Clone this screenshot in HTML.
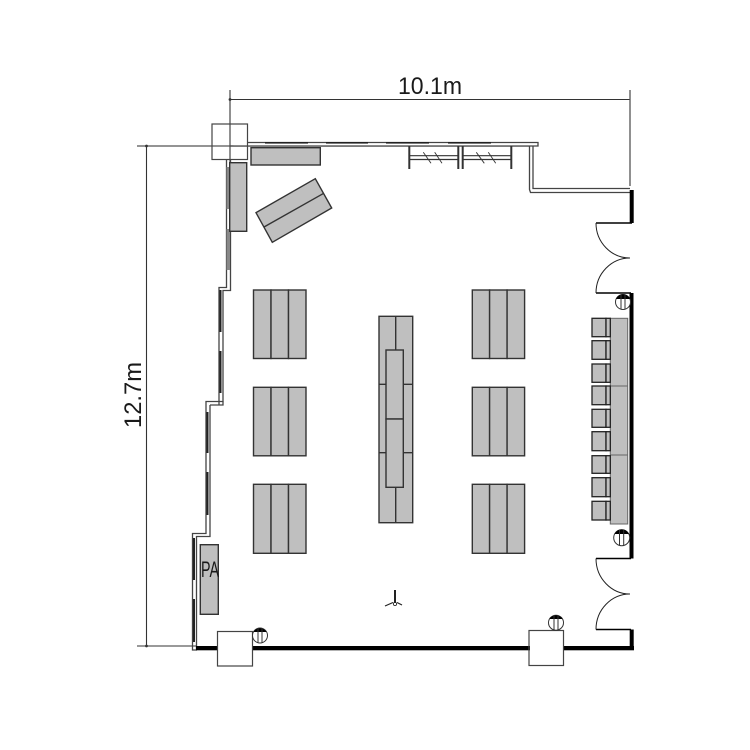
<!DOCTYPE html>
<html>
<head>
<meta charset="utf-8">
<style>
html,body{margin:0;padding:0;background:#fff}
svg{display:block}
text{font-family:"Liberation Sans",sans-serif;fill:#1a1a1a}
</style>
</head>
<body>
<svg width="750" height="750" viewBox="0 0 750 750" xmlns="http://www.w3.org/2000/svg">
<rect width="750" height="750" fill="#fff"/>

<!-- dimension lines -->
<g stroke="#555" stroke-width="1.3" fill="none">
<path d="M230 90V264"/>
<path d="M230 99.5H630" stroke="#333" stroke-width="1.1"/>
<path d="M630 90V186"/>
<path d="M137 146H530"/>
<path d="M146.5 146V646" stroke="#333" stroke-width="1.1"/>
<path d="M137 646H197" stroke="#333" stroke-width="1.1"/>
</g>
<circle cx="230" cy="99.5" r="1.4" fill="#333"/>
<circle cx="146.5" cy="146" r="1.4" fill="#333"/>
<circle cx="146.5" cy="646" r="1.4" fill="#333"/>
<text x="398" y="94" font-size="24" textLength="64" lengthAdjust="spacingAndGlyphs">10.1m</text>
<text transform="translate(141,428) rotate(-90)" font-size="24" textLength="66" lengthAdjust="spacingAndGlyphs">12.7m</text>

<!-- walls -->
<g fill="#fff" stroke="#444" stroke-width="1.3">
<path d="M247.5 142.5H538V146H229.5"/>
<path d="M529.5 146V189.5L530.5 192.5H630M533 146V188.5H630" fill="none"/>
<path d="M226.5 159.5V287.5H219V405M230.5 159.5V290.5H223V401.5H206V533.5H192.5V650H197M210 405V536.5H196.5V650" fill="none"/>
<path d="M223 401.5V405H210" fill="none"/>
</g>
<!-- wall windows -->
<g fill="#222" stroke="none">
<rect x="265" y="142" width="43" height="1.6"/>
<rect x="326" y="142" width="42" height="1.6"/>
<rect x="386" y="142" width="43" height="1.6"/>
<rect x="448" y="142" width="43" height="1.6"/>
<rect x="219.5" y="290" width="2" height="42"/>
<rect x="219.5" y="351" width="2" height="42"/>
<rect x="206.5" y="412" width="2" height="41"/>
<rect x="206.5" y="472" width="2" height="43"/>
<rect x="193" y="538" width="2" height="42"/>
<rect x="193" y="599" width="2" height="43"/>
</g>
<rect x="226.5" y="167" width="3.5" height="42" fill="#888"/>
<rect x="226.5" y="229" width="3.5" height="41" fill="#888"/>

<!-- black walls -->
<g fill="#000">
<rect x="196" y="646" width="22" height="4.3"/>
<rect x="252" y="646" width="278" height="4.3"/>
<rect x="563" y="646" width="71" height="4.3"/>
<rect x="629.7" y="629.5" width="4" height="20"/>
<rect x="629.7" y="190" width="4" height="33"/>
<rect x="629.5" y="293" width="4" height="265.5"/>
</g>

<!-- doors -->
<g fill="none" stroke="#222" stroke-width="1">
<path d="M596 223H632M596 293H631M596 558.5H631M596 629.5H631" stroke="#000" stroke-width="1.5"/>
<path d="M596 223A34 35 0 0 0 630 258"/>
<path d="M630 258A34 35 0 0 0 596 293"/>
<path d="M596 558.5A34 35.5 0 0 0 630 594"/>
<path d="M630 594A34 35.5 0 0 0 596 629.5"/>
</g>

<!-- columns -->
<g fill="none" stroke="#444" stroke-width="1.2">
<rect x="212" y="124" width="35.5" height="35.5"/>
<rect x="217.5" y="631.5" width="35" height="34.5"/>
<rect x="529" y="630.5" width="34.5" height="35"/>
</g>

<!-- round posts -->
<g stroke="#333" stroke-width="1" fill="#fff">
<circle cx="623" cy="302" r="7.5"/>
<circle cx="621.7" cy="537.7" r="8"/>
<circle cx="260" cy="635.5" r="7.5"/>
<circle cx="556" cy="622.7" r="7.5"/>
</g>
<g fill="#000">
<path d="M616 299A7.5 7.5 0 0 1 630 299Z"/>
<path d="M614.5 534A8 8 0 0 1 629 534Z"/>
<path d="M253.5 632A7.5 7.5 0 0 1 266.5 632Z"/>
<path d="M549.5 619A7.5 7.5 0 0 1 562.5 619Z"/>
</g>
<g stroke="#333" stroke-width="1">
<path d="M621 295V309M625 295V309"/>
<path d="M619.5 530V545M623.7 530V545"/>
<path d="M258 628V643M262 628V643"/>
<path d="M554 615V630M558 615V630"/>
</g>

<!-- closets -->
<g stroke="#333" fill="none">
<path d="M409.3 146V169M458.3 146V169M462.7 146V169M511.3 146V169" stroke-width="2"/>
<path d="M409 155.7H458M409 159.5H458M462 155.7H511M462 159.5H511" stroke-width="1.2"/>
<path d="M423.3 152.3L431 163.3M434.7 152.3L442 163.3M476.3 152.3L484.3 163.3M488.3 152.3L495.7 163.3" stroke-width="0.9"/>
</g>

<!-- tables -->
<g fill="#bfbfbf" stroke="#333" stroke-width="1.4">
<rect x="251" y="147.7" width="69.3" height="17.3"/>
<rect x="229.7" y="162.7" width="17" height="68.6"/>
<path d="M315.3 178.7L331.7 208L272.3 242.3L256 212.7Z"/>
<path d="M264 227L323.7 193.3" fill="none"/>
<rect x="200.3" y="544.7" width="18" height="69.6"/>

<rect x="253.5" y="290" width="17.5" height="68.5"/><rect x="271" y="290" width="17.5" height="68.5"/><rect x="288.5" y="290" width="17.5" height="68.5"/>
<rect x="253.5" y="387.3" width="17.5" height="68.5"/><rect x="271" y="387.3" width="17.5" height="68.5"/><rect x="288.5" y="387.3" width="17.5" height="68.5"/>
<rect x="253.5" y="484.3" width="17.5" height="69"/><rect x="271" y="484.3" width="17.5" height="69"/><rect x="288.5" y="484.3" width="17.5" height="69"/>

<rect x="472.3" y="290" width="17.3" height="68.5"/><rect x="489.6" y="290" width="17.5" height="68.5"/><rect x="507.1" y="290" width="17.5" height="68.5"/>
<rect x="472.3" y="387.3" width="17.3" height="68.5"/><rect x="489.6" y="387.3" width="17.5" height="68.5"/><rect x="507.1" y="387.3" width="17.5" height="68.5"/>
<rect x="472.3" y="484.3" width="17.3" height="69"/><rect x="489.6" y="484.3" width="17.5" height="69"/><rect x="507.1" y="484.3" width="17.5" height="69"/>

<rect x="379" y="316.3" width="33.7" height="206.4"/>
<path d="M395.7 316.3V350M395.7 487.3V522.7M379 384.3H386M403.3 384.3H412.7M379 452.7H386M403.3 452.7H412.7" fill="none"/>
<rect x="386" y="350" width="17.3" height="69"/>
<rect x="386" y="419" width="17.3" height="68.3"/>

<rect x="610.3" y="318.3" width="17.4" height="205.7" stroke="#666" stroke-width="1"/>
<path d="M610.3 386H627.7M610.3 455H627.7" stroke="#666" stroke-width="1" fill="none"/>
</g>

<!-- chairs -->
<g fill="#bfbfbf" stroke="#222" stroke-width="1.3">
<rect x="592" y="318.3" width="14" height="18.4"/><rect x="606" y="318.3" width="4.3" height="18.4"/>
<rect x="592" y="340.7" width="14" height="18.6"/><rect x="606" y="340.7" width="4.3" height="18.6"/>
<rect x="592" y="364" width="14" height="18.3"/><rect x="606" y="364" width="4.3" height="18.3"/>
<rect x="592" y="386" width="14" height="18.7"/><rect x="606" y="386" width="4.3" height="18.7"/>
<rect x="592" y="409.3" width="14" height="18"/><rect x="606" y="409.3" width="4.3" height="18"/>
<rect x="592" y="431.7" width="14" height="19"/><rect x="606" y="431.7" width="4.3" height="19"/>
<rect x="592" y="455.7" width="14" height="17.6"/><rect x="606" y="455.7" width="4.3" height="17.6"/>
<rect x="592" y="477.7" width="14" height="19"/><rect x="606" y="477.7" width="4.3" height="19"/>
<rect x="592" y="501.3" width="14" height="18.7"/><rect x="606" y="501.3" width="4.3" height="18.7"/>
</g>

<text x="201" y="577" font-size="22" textLength="18" lengthAdjust="spacingAndGlyphs">PA</text>

<!-- north symbol -->
<g stroke="#222" fill="none">
<path d="M395 590V603" stroke-width="2"/>
<path d="M385 606L393 602.5M397 602.5L402 605" stroke-width="1.2"/>
<circle cx="395" cy="604" r="1.6" stroke-width="0.8"/>
</g>
</svg>
</body>
</html>
